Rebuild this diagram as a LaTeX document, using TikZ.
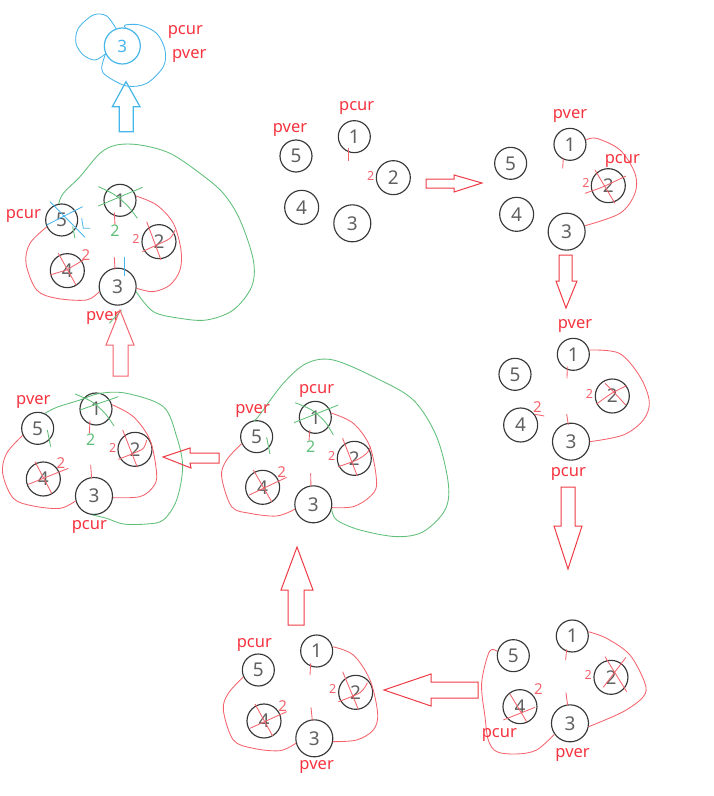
\documentclass[tikz,border=0pt]{standalone}
\usepackage{fontspec}
\setmainfont{Noto Sans}
\definecolor{rl}{HTML}{F4636C}
\definecolor{rt}{HTML}{F5333F}
\definecolor{ra}{HTML}{EE3A44}
\definecolor{gl}{HTML}{5FBF78}
\definecolor{bl}{HTML}{45B5EA}
\definecolor{dg}{HTML}{606060}
\tikzset{
  circ/.style={circle,draw=black!78,line width=1.15pt,inner sep=0pt,minimum size=#1,text=dg,font=\fontsize{19}{19}\selectfont},
  lab/.style={text=rt,inner sep=0pt,yshift=-3pt,font=\fontsize{16.5}{16.5}\selectfont},
  small/.style={text=rl,inner sep=0pt,font=\fontsize{12.5}{12.5}\selectfont},
  mid/.style={text=rl,inner sep=0pt,font=\fontsize{15}{15}\selectfont},
  gtwo/.style={text=gl,inner sep=0pt,font=\fontsize{16}{16}\selectfont},
  rline/.style={draw=rl,line width=.85pt},
  gline/.style={draw=gl,line width=.85pt},
  bline/.style={draw=bl,line width=.85pt},
  barrow/.style={line width=1pt,line join=miter},
  panel/.style={x=.3333pt,y=-.3333pt}
}
\newcommand{\cnode}[4]{\node[circ=#3] (#1) at (#2) {#4};}
\newcommand{\sk}[2]{\draw[#1] plot[smooth,tension=.55] coordinates {#2};}
\begin{document}
\begin{tikzpicture}[x=1pt,y=-1pt]
\useasboundingbox (0,0) rectangle (714,796);

% ---- blue result
\begin{scope}[panel]
\node[circle,draw=bl,line width=1.2pt,minimum size=36pt,inner sep=0pt,text=bl,font=\fontsize{17}{17}\selectfont] (z3) at (367,138) {3};
\sk{bline}{(z3.110) (320,48) (280,45) (235,85) (228,130) (250,165) (285,180) (z3.205)}
\sk{bline}{(z3.205) (305,205) (320,228) (380,258) (440,250) (490,200) (495,150) (470,100) (420,75) (375,75) (z3.80)}
\node[lab] (zc) at (556,88) {pcur};
\node[lab] (zv) at (568,160) {pver};
\draw[bl,barrow,line width=1.2pt] (378,245) -- (420,320) -- (400,320) -- (400,395) -- (358,395) -- (358,320) -- (337,320) -- cycle;
\end{scope}

% ---- panel A
\begin{scope}[panel]
\cnode{a1}{360,601}{32pt}{1}
\cnode{a2}{477,725}{34pt}{2}
\cnode{a3}{353,860}{37pt}{3}
\cnode{a4}{202,812}{34pt}{4}
\cnode{a5}{185,660}{32pt}{5}
\sk{rline}{(a1.15) (470,615) (520,670) (543,750) (540,810) (510,855) (460,875) (a3.-5)}
\sk{rline}{(a3.195) (260,900) (170,895) (110,870) (78,790) (90,730) (a5.205)}
\sk{gline}{(a5.100) (190,580) (240,530) (300,460) (350,435) (420,435) (510,460) (600,520) (670,580) (720,660) (760,780) (755,860) (700,930) (620,960) (540,955) (460,935) (a3.-15)}
\sk{gline}{(295,560) (345,585) (385,620) (412,655)}
\draw[gline] (295,618) -- (428,562);
\draw[rline] (343,638) -- (345,675);
\node[gtwo] (a2g) at (345,692) {2};
\draw[bline] (150,605) -- (255,712);
\draw[bline] (140,675) -- (248,620);
\draw[gline] (218,680) -- (225,715);
\draw[bline] (245,655) -- (250,685) -- (270,685);
\draw[rline] (440,665) -- (483,780);
\sk{rline}{(427,755) (470,735) (510,715) (525,690)}
\node[small] (a2s) at (408,717) {2};
\draw[rline] (175,760) -- (228,855);
\draw[rline] (150,825) -- (200,810) -- (250,780);
\node[mid] (a4s) at (258,765) {2};
\draw[rline] (343,772) -- (345,808);
\draw[bline] (372,772) -- (372,828);
\node[lab] (ac) at (70,640) {pcur};
\node[lab] (av) at (310,945) {pver};
\draw[gline] (328,970) -- (365,930);
\end{scope}

% ---- arrow B -> A
\draw[ra,barrow,draw=rl] (120,310) -- (134,345) -- (128,345) -- (128,376) -- (113,376) -- (113,345) -- (106,345) -- cycle;

% ---- panel B
\begin{scope}[shift={(0,350)},panel]
\cnode{b1}{288,177}{32pt}{1}
\cnode{b2}{405,298}{34pt}{2}
\cnode{b3}{282,438}{37pt}{3}
\cnode{b4}{130,387}{34pt}{4}
\cnode{b5}{113,235}{32pt}{5}
\sk{rline}{(b1.15) (400,200) (450,270) (470,370) (460,410) (420,440) (b3.-5)}
\sk{rline}{(b3.195) (180,475) (100,468) (40,445) (8,370) (20,310) (b5.205)}
\sk{gline}{(135,190) (170,172) (240,150) (300,130) (380,130) (490,170) (530,260) (548,350) (530,450) (490,510) (440,522) (370,522) (320,505) (b3.-95)}
\sk{gline}{(225,132) (275,155) (315,190) (342,228)}
\draw[gline] (240,180) -- (355,140);
\draw[rline] (270,212) -- (268,250);
\node[gtwo] (b2g) at (272,268) {2};
\draw[gline] (142,240) -- (152,290);
\draw[rline] (368,240) -- (412,352);
\sk{rline}{(355,328) (400,310) (430,295) (440,270)}
\node[small] (b2s) at (338,293) {2};
\draw[rline] (105,335) -- (155,430);
\draw[rline] (85,403) -- (205,355);
\node[mid] (b4s) at (183,340) {2};
\draw[rline] (272,345) -- (275,385);
\node[lab] (bv) at (100,147) {pver};
\node[lab] (bc) at (268,523) {pcur};
\end{scope}

% ---- arrow C -> B
\draw[ra,barrow] (163,457) -- (190,448) -- (190,453) -- (219,453) -- (219,463) -- (190,463) -- (191,468) -- cycle;

% ---- panel C
\begin{scope}[shift={(0,350)},panel]
\cnode{c1}{946,202}{32pt}{1}
\cnode{c2}{1063,325}{34pt}{2}
\cnode{c3}{940,463}{37pt}{3}
\cnode{c4}{788,412}{34pt}{4}
\cnode{c5}{770,260}{32pt}{5}
\sk{rline}{(c1.15) (1060,220) (1110,290) (1130,400) (1110,440) (1060,470) (c3.-10)}
\sk{rline}{(c3.195) (830,498) (750,490) (695,470) (665,380) (680,330) (c5.205)}
\sk{gline}{(c5.100) (775,200) (850,100) (920,40) (1000,30) (1130,85) (1240,150) (1310,260) (1345,400) (1335,480) (1270,545) (1190,560) (1080,540) (1010,510) (c3.-15)}
\sk{gline}{(885,158) (935,180) (975,215) (1000,255)}
\draw[gline] (882,218) -- (1015,165);
\draw[rline] (930,240) -- (927,272);
\node[gtwo] (c2g) at (932,290) {2};
\draw[gline] (800,262) -- (810,312);
\draw[rline] (1028,265) -- (1072,378);
\sk{rline}{(1015,350) (1070,330) (1100,310) (1112,290)}
\node[small] (c2s) at (995,317) {2};
\draw[rline] (760,360) -- (815,455);
\draw[rline] (748,435) -- (860,382);
\node[mid] (c4s) at (845,366) {2};
\draw[rline] (932,370) -- (933,410);
\node[lab] (cc) at (950,115) {pcur};
\node[lab] (cv) at (758,175) {pver};
\end{scope}

% ---- arrow D -> C
\draw[ra,barrow] (297,547) -- (313,590) -- (304,590) -- (304,625) -- (288,625) -- (288,590) -- (281,590) -- cycle;

% ---- panel D
\begin{scope}[shift={(210,600)},panel]
\cnode{d1}{320,153}{32pt}{1}
\cnode{d2}{437,277}{34pt}{2}
\cnode{d3}{313,415}{37pt}{3}
\cnode{d4}{162,363}{34pt}{4}
\cnode{d5}{145,210}{32pt}{5}
\sk{rline}{(d1.15) (430,165) (480,240) (503,340) (490,390) (440,420) (d3.-10)}
\sk{rline}{(d3.195) (210,452) (130,445) (70,420) (40,330) (55,280) (d5.205)}
\draw[rline] (398,215) -- (445,328);
\sk{rline}{(385,305) (450,278) (472,248)}
\node[small] (d2s) at (368,268) {2};
\draw[rline] (135,312) -- (188,408);
\draw[rline] (120,385) -- (230,335);
\node[mid] (d4s) at (218,318) {2};
\draw[rline] (302,190) -- (300,225);
\draw[rline] (303,322) -- (307,362);
\node[lab] (dc) at (133,125) {pcur};
\node[lab] (dv) at (320,493) {pver};
\end{scope}

% ---- arrow E -> D
\draw[ra,barrow] (384,690) -- (431,674) -- (431,682) -- (478,682) -- (478,698) -- (431,698) -- (431,706) -- cycle;

% ---- panel E
\begin{scope}[shift={(210,600)},panel]
\cnode{e1}{1087,108}{32pt}{1}
\cnode{e2}{1203,232}{34pt}{2}
\cnode{e3}{1080,370}{37pt}{3}
\cnode{e4}{930,320}{34pt}{4}
\cnode{e5}{910,167}{32pt}{5}
\sk{rline}{(e1.15) (1190,115) (1260,165) (1305,250) (1300,290) (1240,335) (e3.-10)}
\sk{rline}{(e3.215) (980,450) (920,462) (860,455) (835,420) (825,350) (815,250) (838,155) (e5.165)}
\draw[rline] (1185,170) -- (1250,275);
\draw[rline] (1248,172) -- (1180,262);
\node[small] (e2s) at (1135,225) {2};
\draw[rline] (900,282) -- (950,365);
\draw[rline] (880,360) -- (975,322);
\node[mid] (e4s) at (985,266) {2};
\draw[rline] (1070,148) -- (1067,180);
\draw[rline] (1068,278) -- (1073,316);
\node[lab] (ec) at (868,397) {pcur};
\node[lab] (ev) at (1088,457) {pver};
\end{scope}

% ---- arrow F -> E
\draw[ra,barrow] (568,569) -- (582,526) -- (575,526) -- (575,487) -- (561,487) -- (561,526) -- (554,526) -- cycle;

% ---- panel F
\begin{scope}[shift={(480,300)},panel]
\cnode{f1}{280,163}{32pt}{1}
\cnode{f2}{397,288}{34pt}{2}
\cnode{f3}{273,425}{37pt}{3}
\cnode{f4}{122,375}{34pt}{4}
\cnode{f5}{105,223}{32pt}{5}
\sk{rline}{(f1.15) (418,160) (480,230) (508,305) (490,360) (430,405) (f3.0)}
\sk{rline}{(375,250) (405,280) (437,315)}
\sk{rline}{(350,312) (395,280) (440,257)}
\node[small] (f2s) at (328,282) {2};
\node[mid] (f4s) at (172,322) {2};
\draw[rline] (165,343) -- (193,348);
\draw[rline] (262,200) -- (261,235);
\draw[rline] (260,342) -- (265,375);
\node[lab] (fv) at (285,70) {pver};
\node[lab] (fc) at (265,513) {pcur};
\end{scope}

% ---- arrow G -> F
\draw[ra,barrow] (566,308) -- (577,281) -- (572,281) -- (572,255) -- (559,255) -- (559,281) -- (556,281) -- cycle;

% ---- panel G
\begin{scope}[shift={(260,90)},panel]
\cnode{g1}{930,163}{32pt}{1}
\cnode{g2}{1045,287}{34pt}{2}
\cnode{g3}{920,425}{37pt}{3}
\cnode{g4}{770,373}{34pt}{4}
\cnode{g5}{752,220}{32pt}{5}
\sk{rline}{(g1.15) (1010,145) (1080,180) (1125,250) (1125,310) (1080,370) (g3.18)}
\draw[rline] (1005,240) -- (1065,340);
\sk{rline}{(975,310) (1030,290) (1098,258)}
\node[small] (g2s) at (978,280) {2};
\draw[rline] (910,205) -- (908,235);
\node[lab] (gv) at (930,70) {pver};
\node[lab] (gc) at (1087,205) {pcur};
\end{scope}

% ---- arrow H -> G
\draw[ra,barrow] (482,183) -- (454,175) -- (454,179) -- (426,179) -- (426,188) -- (454,188) -- (454,192) -- cycle;

% ---- panel H
\begin{scope}[shift={(260,90)},panel]
\cnode{h1}{283,140}{32pt}{1}
\cnode{h2}{400,263}{34pt}{2}
\cnode{h3}{277,400}{37pt}{3}
\cnode{h4}{125,352}{34pt}{4}
\cnode{h5}{108,198}{32pt}{5}
\draw[rline] (264,175) -- (264,212);
\node[small] (h2s) at (332,258) {2};
\node[lab] (hc) at (290,45) {pcur};
\node[lab] (hv) at (90,110) {pver};
\end{scope}
\end{tikzpicture}
\end{document}
